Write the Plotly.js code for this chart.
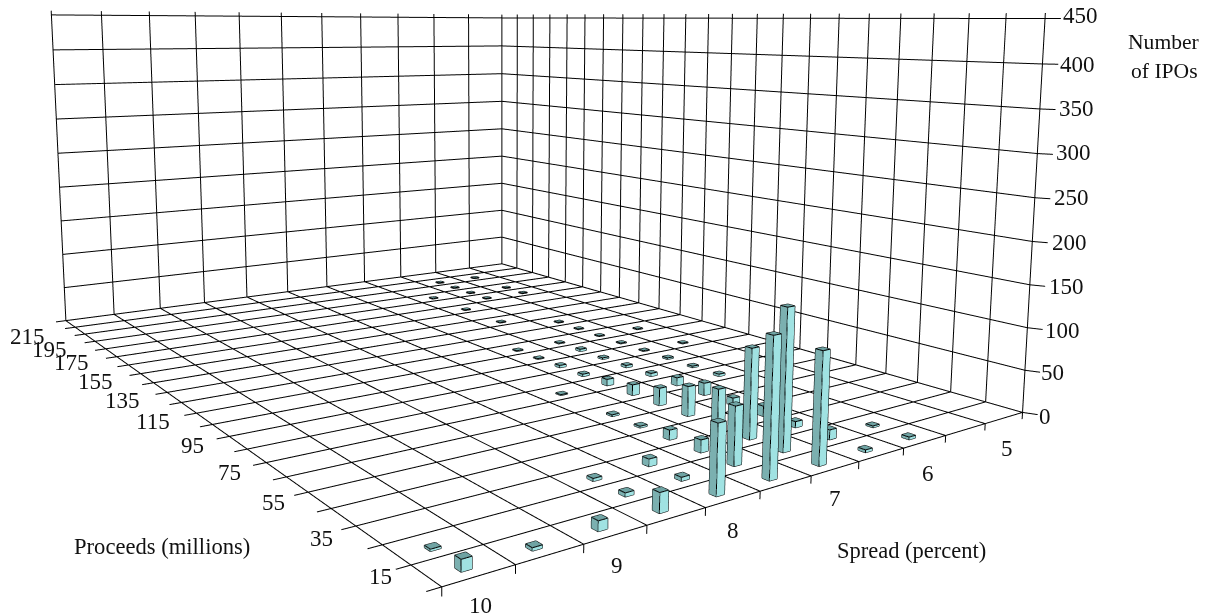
<!DOCTYPE html>
<html><head><meta charset="utf-8"><script src="https://cdn.plot.ly/plotly-3.0.1.min.js"></script>
<style>html,body{margin:0;padding:0;width:1212px;height:615px;overflow:hidden;background:#fff}
#g{position:absolute;left:-150px;top:-329px}</style></head><body>
<div id="g"></div>
<script>
var spread=[10,10,9.5,9,8.5,8.5,8.5,8,8,8,7.5,7.5,7.5,7.5,7.5,7.5,7.5,7,7,7,7,7,7,7,7,7,7,7,7,6.5,6.5,6.5,6.5,6.5,6.5,6.5,6.5,6.5,6.5,6.5,6.5,6.5,6.5,6.5,6,6,6,6,6,6,6,6,6,6,6,6,6,6,5.5,5.5,5.5,5.5,5.5];
var proceeds=[15,25,15,15,15,25,35,15,25,35,15,25,35,45,55,65,85,15,25,35,45,55,65,75,85,95,105,115,125,15,25,35,45,55,65,75,85,95,105,115,125,155,175,195,15,25,75,85,95,105,115,125,135,145,185,195,205,215,105,125,185,195,215];
var ipos=[11,2,3,10,20,4,3,72,4,8,146,63,14,11,2,2,1,120,155,101,44,35,21,13,8,3,3,1,1,3,11,7,12,9,15,10,4,3,2,3,1,1,1,1,3,2,3,2,2,1,1,1,1,1,1,1,1,1,1,1,1,1,1];
var spreadEdges=[10.25,9.75,9.25,8.75,8.25,7.75,7.25,6.75,6.25,5.75,5.25,4.75];
var proceedEdges=[10,20,30,40,50,60,70,80,90,100,110,120,130,140,150,160,170,180,190,200,210,220,230];
var countTicks=[0,50,100,150,200,250,300,350,400,450];
var spreadLabels=['10','9','8','7','6','5'];
var proceedLabels=['15','35','55','75','95','115','135','155','175','195','215'];

var W=1395,Hh=1036,OX=150,OY=329;
var A=0.78628,B=1.0913,H=0.4545;
var xa=-10.25-0.16,xb=-4.75+0.08,ya=10-4,yb=230+1,za=-10,zb=458;
function wx(x){return (x+10.25)/5.5*A;} function wy(y){return (y-10)/220*B;} function wz(z){return z/450*H;}
var C=[(wx(xa)+wx(xb))/2,(wy(ya)+wy(yb))/2,(wz(za)+wz(zb))/2];
var eyeW=[-0.48824,-0.8179,0.44856],fwd=[0.5803,0.8036,-0.1328],upW=[0.07375,0.1105,0.9912];
var eye={x:eyeW[0]-C[0],y:eyeW[1]-C[1],z:eyeW[2]-C[2]};
var cen={x:eye.x+1.6*fwd[0],y:eye.y+1.6*fwd[1],z:eye.z+1.6*fwd[2]};

// grid
var gx=[],gy=[],gz=[];
function seg(x0,y0,z0,x1,y1,z1){gx.push(x0,x1,null);gy.push(y0,y1,null);gz.push(z0,z1,null);}
var x0=-10.25,x1=-4.75,y0=10,y1=230;
spreadEdges.forEach(function(s){var x=-s;
  seg(x,y0,0,x,y1,0);seg(x,y0,0,x,y0,-8);seg(x,y1,0,x,y1,456);});
proceedEdges.forEach(function(y){
  seg(x0-0.1,y,0,x1,y,0);seg(x1,y,0,x1,y,456);});
countTicks.forEach(function(z){
  seg(x0,y1,z,x1,y1,z);seg(x1,y1,z,x1,y0,z);seg(x1,y0,z,x1+0.05,y0-3,z);});

// bars
var bw=0.0375,bd=1.0,shiftX=-0.025,shiftY=-1.2;
var vx=[],vy=[],vz=[],fi=[],fj=[],fk=[],fc=[],ex=[],ey=[],ez=[];
var LIGHT='#a0e2e2',DARK='#7bb0b0',TOP='#6fa3a3';
function quad(a,b,c,d,col){fi.push(a,a);fj.push(b,c);fk.push(c,d);fc.push(col,col);}
ipos.forEach(function(v,n){
  var cx=-spread[n]+shiftX,cy=proceeds[n]+shiftY,b=vx.length;
  var xs=[cx-bw,cx+bw,cx+bw,cx-bw],ys=[cy-bd,cy-bd,cy+bd,cy+bd];
  for(var k=0;k<4;k++){vx.push(xs[k]);vy.push(ys[k]);vz.push(0);}
  for(k=0;k<4;k++){vx.push(xs[k]);vy.push(ys[k]);vz.push(v);}
  quad(b,b+1,b+5,b+4,LIGHT);
  quad(b+3,b,b+4,b+7,DARK);
  quad(b+1,b+2,b+6,b+5,DARK);
  quad(b+2,b+3,b+7,b+6,DARK);
  quad(b+4,b+5,b+6,b+7,TOP);
  quad(b,b+1,b+2,b+3,DARK);
  for(k=0;k<4;k++){var m=(k+1)%4;
    ex.push(xs[k],xs[m],null);ey.push(ys[k],ys[m],null);ez.push(0,0,null);
    ex.push(xs[k],xs[m],null);ey.push(ys[k],ys[m],null);ez.push(v,v,null);
    ex.push(xs[k],xs[k],null);ey.push(ys[k],ys[k],null);ez.push(0,v,null);}
});

function px(x,y,txt,anchor,size){return {text:txt,xref:'paper',yref:'paper',x:(x+OX)/W,y:1-(y+OY)/Hh,xanchor:anchor||'center',yanchor:'middle',showarrow:false,font:{family:'Liberation Serif, serif',size:size||23,color:'#111'}};}
var ann=[];
var zLab=[[1061,16],[1058,64],[1057,108],[1054,152],[1052,197],[1050,242],[1047,286],[1043,330],[1039,372],[1037,416]];
countTicks.slice().reverse().forEach(function(t,n){ann.push(px(zLab[n][0],zLab[n][1],String(t),'left'));});
var sLab=[[480,605],[617,565],[733,530],[835,498],[928,473],[1007,448]];
spreadLabels.forEach(function(t,n){ann.push(px(sLab[n][0],sLab[n][1],t));});
var pLab=[[380,576],[321,538],[273,502],[229,472],[192,445],[153,421],[122,400],[95,381],[71,362],[49,349],[27,336]];
proceedLabels.forEach(function(t,n){ann.push(px(pLab[n][0],pLab[n][1],t));});
ann.push(px(162,546,'Proceeds (millions)','center',22.6));
ann.push(px(911,550,'Spread (percent)','center',22.5));
ann.push(px(1163,42,'Number','center',21.6));
ann.push(px(1164,71,'of IPOs','center',21.6));

function hidden(r){return {range:r,visible:false,showgrid:false,showline:false,zeroline:false,showticklabels:false,showbackground:false,showspikes:false,title:{text:''}};}
var layout={width:W,height:Hh,margin:{l:0,r:0,t:0,b:0},showlegend:false,paper_bgcolor:'rgba(0,0,0,0)',annotations:ann,
 scene:{domain:{x:[0,1],y:[0,1]},aspectmode:'manual',aspectratio:{x:wx(xb)-wx(xa),y:wy(yb)-wy(ya),z:wz(zb)-wz(za)},
 camera:{projection:{type:'perspective'},up:{x:upW[0],y:upW[1],z:upW[2]},eye:eye,center:cen},
 xaxis:hidden([xa,xb]),yaxis:hidden([ya,yb]),zaxis:hidden([za,zb])}};
var traces=[
 {type:'scatter3d',mode:'lines',x:gx,y:gy,z:gz,line:{color:'#000',width:2},hoverinfo:'skip',connectgaps:false},
 {type:'mesh3d',x:vx,y:vy,z:vz,i:fi,j:fj,k:fk,facecolor:fc,flatshading:true,lighting:{ambient:1,diffuse:0,specular:0,fresnel:0,roughness:1},hoverinfo:'skip',showscale:false},
 {type:'scatter3d',mode:'lines',x:ex,y:ey,z:ez,line:{color:'#000',width:2},hoverinfo:'skip',connectgaps:false}
];
Plotly.newPlot('g',traces,layout,{displayModeBar:false});
</script></body></html>
